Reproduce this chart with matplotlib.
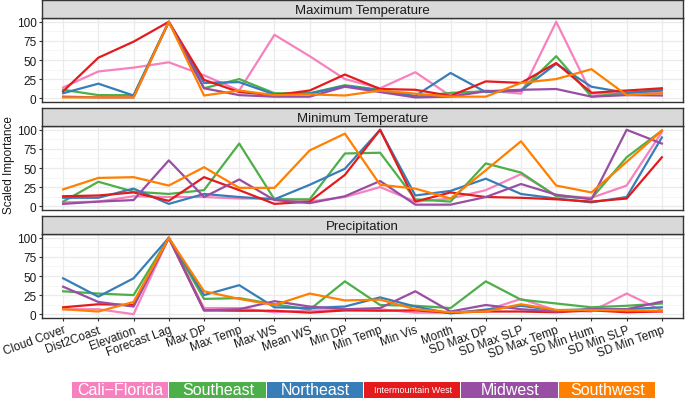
import matplotlib
matplotlib.use("Agg")
import matplotlib.pyplot as plt
from matplotlib.patches import Rectangle

plt.rcParams['font.family'] = ['Liberation Sans', 'DejaVu Sans']

categories = ["Cloud Cover", "Dist2Coast", "Elevation", "Forecast Lag", "Max DP",
              "Max Temp", "Max WS", "Mean WS", "Min DP", "Min Temp", "Min Vis",
              "Month", "SD Max DP", "SD Max SLP", "SD Max Temp", "SD Min Hum",
              "SD Min SLP", "SD Min Temp"]

regions = ["Cali\u2212Florida", "Southeast", "Northeast", "Intermountain West", "Midwest", "Southwest"]
colors = ["#F781BF", "#4DAF4A", "#377EB8", "#E41A1C", "#984EA3", "#FF7F00"]

panels = ["Maximum Temperature", "Minimum Temperature", "Precipitation"]

# Maximum Temperature
maxt_cali = [14, 35, 40, 47, 30, 10, 83, 55, 25, 13, 34, 3, 10, 6, 100, 6, 6, 7]
maxt_se = [11, 4, 4, 100, 13, 25, 6.5, 6.5, 17, 11, 2, 7, 9, 10, 55, 2, 7, 11]
maxt_ne = [6.5, 19, 3.5, 100, 20, 21, 5, 6, 16, 10, 3, 33, 8, 10, 45, 15, 7, 10]
maxt_iw = [9, 53, 74, 100, 24, 8, 4, 10, 31, 12, 11, 3, 22, 20, 46, 7, 10, 13]
maxt_mw = [2, 1, 1, 100, 13, 4, 2, 2, 15, 8, 1, 2, 9, 11, 12, 2, 4, 3.5]
maxt_sw = [1, 1, 1, 100, 3.5, 10, 4, 5, 3.5, 10, 6, 2, 2, 20, 25, 38, 4, 6.5]

# Minimum Temperature
mint_cali = [5, 6, 13, 12, 12, 10, 10, 6, 12, 25, 6, 10, 21, 42, 14, 11, 27, 97]
mint_se = [6, 32, 19, 16, 21, 82, 9, 9, 69, 70, 9, 6, 56, 44, 13, 10, 64, 99]
mint_ne = [11, 11, 23, 3, 16, 12, 9, 28, 49, 100, 14, 20, 36, 16, 10, 5, 12, 90]
mint_iw = [13, 14, 18, 7, 38, 21, 3, 6, 41, 100, 6, 18, 12, 11, 9, 6, 10, 64]
mint_mw = [3, 6, 8, 60, 12, 35, 8, 4, 13, 33, 2, 2, 12, 29, 15, 9, 100, 82]
mint_sw = [22, 37, 38, 27, 51, 24, 24, 73, 95, 28, 23, 10, 47, 85, 27, 18, 58, 99]

# Precipitation
prec_cali = [6.5, 6.5, 0, 100, 8, 8, 2.5, 5, 5, 6.5, 2, 2, 5, 20, 5, 3.5, 27, 5]
prec_se = [30, 27, 25, 100, 20, 21, 13, 6, 43, 12, 11, 8, 43, 19, 14, 9, 11, 14]
prec_ne = [47, 23, 47, 100, 25, 38, 9, 8, 10, 22, 10, 1, 6, 11, 5, 6.5, 6.5, 9]
prec_iw = [9, 13, 12, 100, 5, 4.5, 4.5, 2, 5, 4.5, 5, 2, 3.5, 3.5, 2.5, 5, 2.5, 3.5]
prec_mw = [36, 16, 10, 100, 5, 6.5, 17, 10, 6.5, 8, 30, 3.5, 12, 6.5, 3.5, 6.5, 6.5, 16.5]
prec_sw = [6.5, 3.5, 16, 100, 30, 20, 12, 27, 18, 19, 6.5, 2.5, 3.5, 13, 5.5, 5.5, 5, 4.5]

data = [
    [maxt_cali, maxt_se, maxt_ne, maxt_iw, maxt_mw, maxt_sw],
    [mint_cali, mint_se, mint_ne, mint_iw, mint_mw, mint_sw],
    [prec_cali, prec_se, prec_ne, prec_iw, prec_mw, prec_sw],
]

W, H = 685, 402
fig = plt.figure(figsize=(W / 100, H / 100), dpi=100)

left_px, right_px = 42, 683
strip_h, panel_h, gap = 18, 84, 6
top0 = 1
edge = "#333333"
x = list(range(len(categories)))

axes = []
for p, name in enumerate(panels):
    strip_top = top0 + p * (strip_h + panel_h + gap)
    panel_top = strip_top + strip_h
    panel_bot = panel_top + panel_h
    ax = fig.add_axes([left_px / W, 1 - panel_bot / H, (right_px - left_px) / W, panel_h / H])
    axes.append(ax)
    # strip
    sax = fig.add_axes([left_px / W, 1 - panel_top / H, (right_px - left_px) / W, strip_h / H])
    sax.set_facecolor("#D9D9D9")
    sax.set_xticks([]); sax.set_yticks([])
    for s in sax.spines.values():
        s.set_color(edge); s.set_linewidth(1.0)
    sax.text(0.5, 0.45, name, ha="center", va="center", fontsize=9.5, color="#1A1A1A",
             transform=sax.transAxes)

    for r in range(len(regions)):
        ax.plot(x, data[p][r], color=colors[r], lw=1.6, solid_joinstyle="round", zorder=3)
    ax.set_xlim(-0.6, len(categories) - 1 + 0.6)
    ax.set_ylim(-5, 105)
    ax.set_yticks([0, 25, 50, 75, 100])
    ax.set_yticks([12.5, 37.5, 62.5, 87.5], minor=True)
    ax.set_xticks(x)
    ax.grid(which="major", color="#EBEBEB", lw=0.9, zorder=0)
    ax.grid(which="minor", axis="y", color="#F2F2F2", lw=0.5, zorder=0)
    ax.set_axisbelow(True)
    for s in ax.spines.values():
        s.set_color(edge); s.set_linewidth(1.0)
    ax.tick_params(axis="both", which="major", length=2.5, color=edge, width=0.8,
                   labelsize=8.5, labelcolor="#1A1A1A", pad=1.5)
    ax.tick_params(axis="y", which="minor", length=0)
    if p < 2:
        ax.tick_params(axis="x", length=0, labelbottom=False)
    else:
        ax.set_xticklabels(categories, rotation=20, ha="right", rotation_mode="anchor",
                           fontsize=8.5)

fig.text(9 / W, 1 - 165 / H, "Scaled Importance", rotation=90, ha="center", va="center",
         fontsize=8.5, color="#1A1A1A")

# legend boxes
leg_left, leg_right = 72, 656
leg_top, leg_bot = 383, 399
bw = (leg_right - leg_left) / len(regions)
leg_sizes = [11.5, 11.5, 11.5, 6.5, 11.5, 11.5]
for i, (reg, c) in enumerate(zip(regions, colors)):
    x0 = leg_left + i * bw
    fig.patches.append(Rectangle((x0 / W, 1 - leg_bot / H), (bw - 1) / W, (leg_bot - leg_top) / H,
                                 transform=fig.transFigure, facecolor=c, edgecolor="none"))
    fig.text((x0 + bw / 2) / W, 1 - (leg_top + leg_bot) / 2 / H, reg, ha="center", va="center",
             fontsize=leg_sizes[i], color="white")

fig.savefig("out.png", dpi=100)
